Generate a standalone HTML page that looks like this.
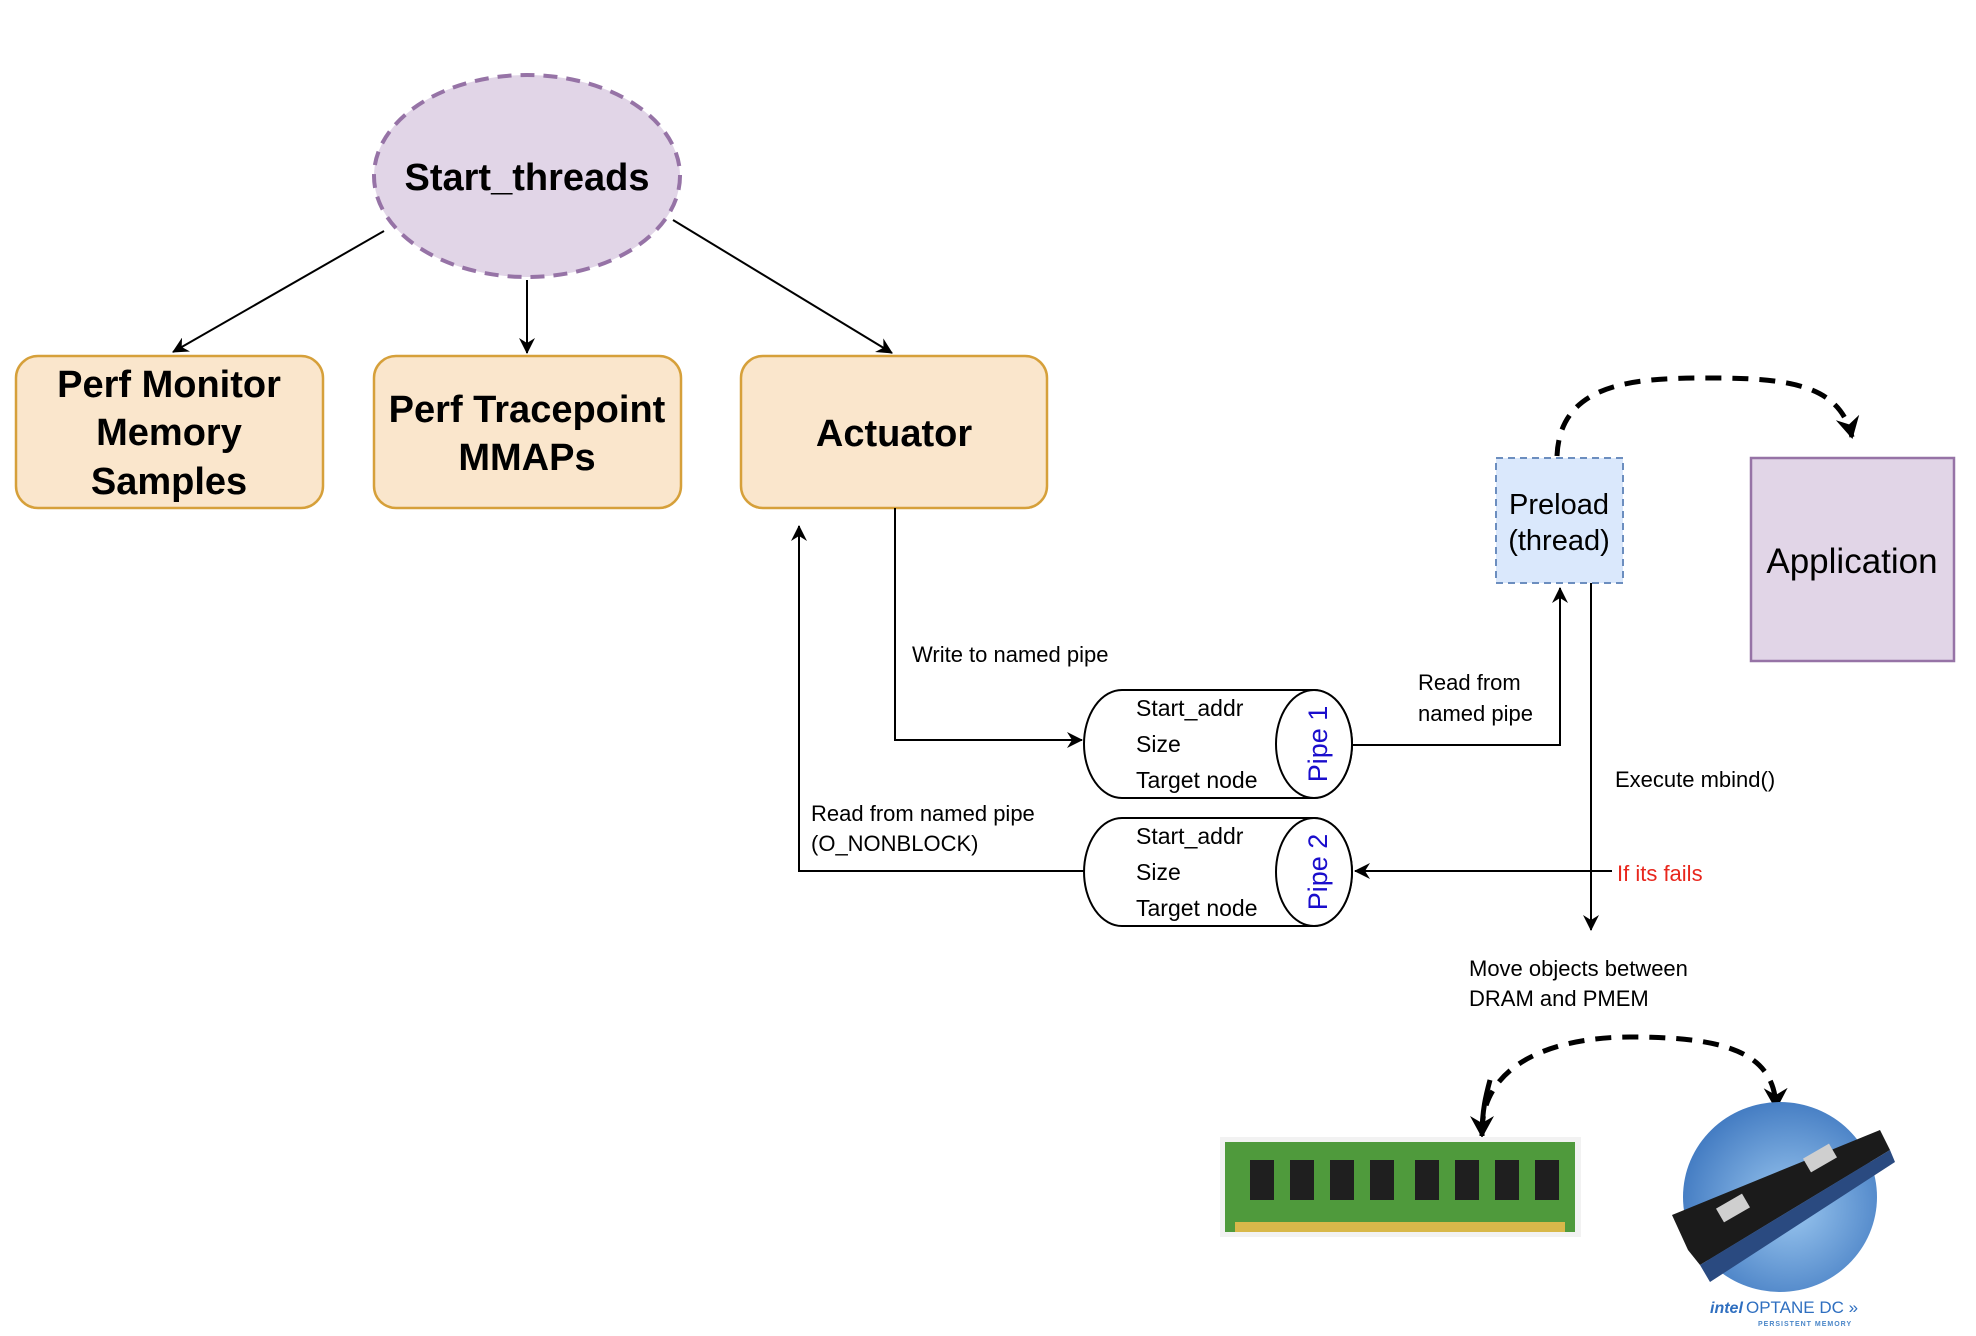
<!DOCTYPE html>
<html><head><meta charset="utf-8"><style>
html,body{margin:0;padding:0;background:#fff;}
svg{display:block;font-family:"Liberation Sans",sans-serif;}
</style></head><body>
<svg width="1976" height="1336" viewBox="0 0 1976 1336" xmlns="http://www.w3.org/2000/svg">
<defs>
<marker id="a" markerWidth="18" markerHeight="16" refX="15" refY="8" orient="auto" markerUnits="userSpaceOnUse"><path d="M0,0 L16,8 L0,16 L5,8 Z" fill="#000"/></marker>
<marker id="b" markerWidth="24" markerHeight="24" refX="20" refY="12" orient="auto" markerUnits="userSpaceOnUse"><path d="M0,0 L22,12 L0,24 L7,12 Z" fill="#000"/></marker>
<radialGradient id="g" cx="0.55" cy="0.55" r="0.6"><stop offset="0" stop-color="#9cc8f0"/><stop offset="1" stop-color="#3f78c0"/></radialGradient>
</defs>

<ellipse cx="527" cy="176" rx="153" ry="101" fill="#e1d5e7" stroke="#9673a6" stroke-width="4" stroke-dasharray="14,9"/>
<text x="527" y="190" font-size="38" font-weight="bold" text-anchor="middle">Start_threads</text>

<line x1="384" y1="231" x2="173" y2="352" stroke="#000" stroke-width="2" marker-end="url(#a)"/>
<line x1="527" y1="280" x2="527" y2="353" stroke="#000" stroke-width="2" marker-end="url(#a)"/>
<line x1="673" y1="220" x2="892" y2="353" stroke="#000" stroke-width="2" marker-end="url(#a)"/>

<g fill="#fae6cc" stroke="#d6a03a" stroke-width="2.5">
<rect x="16" y="356" width="307" height="152" rx="22"/>
<rect x="374" y="356" width="307" height="152" rx="22"/>
<rect x="741" y="356" width="306" height="152" rx="22"/>
</g>
<g font-size="38" font-weight="bold" text-anchor="middle">
<text x="169" y="397">Perf Monitor</text>
<text x="169" y="445">Memory</text>
<text x="169" y="494">Samples</text>
<text x="527" y="422">Perf Tracepoint</text>
<text x="527" y="470">MMAPs</text>
<text x="894" y="446">Actuator</text>
</g>

<rect x="1496" y="458" width="127" height="125" fill="#dae8fc" stroke="#6c8ebf" stroke-width="2" stroke-dasharray="7,5"/>
<text x="1559" y="514" font-size="29" text-anchor="middle">Preload</text>
<text x="1559" y="550" font-size="29" text-anchor="middle">(thread)</text>

<rect x="1751" y="458" width="203" height="203" fill="#e1d5e7" stroke="#9673a6" stroke-width="2.5"/>
<text x="1852" y="573" font-size="35" text-anchor="middle">Application</text>

<path d="M1557,456 C1560,380 1640,378 1710,378 C1790,378 1840,385 1852,437" fill="none" stroke="#000" stroke-width="5" stroke-dasharray="16,11" marker-end="url(#b)"/>

<polyline points="895,508 895,740 1082,740" fill="none" stroke="#000" stroke-width="2" marker-end="url(#a)"/>
<text x="912" y="662" font-size="22">Write to named pipe</text>

<g stroke="#000" stroke-width="2" fill="#fff">
<path d="M1122,690 L1314,690 A38,54 0 0 1 1314,798 L1122,798 A38,54 0 0 1 1122,690 Z"/>
<ellipse cx="1314" cy="744" rx="38" ry="54"/>
<path d="M1122,818 L1314,818 A38,54 0 0 1 1314,926 L1122,926 A38,54 0 0 1 1122,818 Z"/>
<ellipse cx="1314" cy="872" rx="38" ry="54"/>
</g>
<g font-size="23">
<text x="1136" y="716">Start_addr</text>
<text x="1136" y="752">Size</text>
<text x="1136" y="788">Target node</text>
<text x="1136" y="844">Start_addr</text>
<text x="1136" y="880">Size</text>
<text x="1136" y="916">Target node</text>
</g>
<text transform="translate(1327,744) rotate(-90)" font-size="27" fill="#1a0dcc" text-anchor="middle">Pipe 1</text>
<text transform="translate(1327,872) rotate(-90)" font-size="27" fill="#1a0dcc" text-anchor="middle">Pipe 2</text>

<polyline points="1352,745 1560,745 1560,588" fill="none" stroke="#000" stroke-width="2" marker-end="url(#a)"/>
<text x="1418" y="690" font-size="22">Read from</text>
<text x="1418" y="721" font-size="22">named pipe</text>

<line x1="1591" y1="583" x2="1591" y2="930" stroke="#000" stroke-width="2" marker-end="url(#a)"/>
<text x="1615" y="787" font-size="22">Execute mbind()</text>
<line x1="1612" y1="871" x2="1355" y2="871" stroke="#000" stroke-width="2" marker-end="url(#a)"/>
<text x="1617" y="881" font-size="22" fill="#e8261c">If its fails</text>

<polyline points="1085,871 799,871 799,526" fill="none" stroke="#000" stroke-width="2" marker-end="url(#a)"/>
<text x="811" y="821" font-size="22">Read from named pipe</text>
<text x="811" y="851" font-size="22">(O_NONBLOCK)</text>

<text x="1469" y="976" font-size="22">Move objects between</text>
<text x="1469" y="1006" font-size="22">DRAM and PMEM</text>

<path d="M1482,1132 C1482,1060 1560,1037 1630,1037 C1720,1037 1775,1050 1776,1108" fill="none" stroke="#000" stroke-width="5" stroke-dasharray="16,11" marker-end="url(#b)"/>
<path d="M1490,1080 C1486,1095 1482,1110 1482,1136" fill="none" stroke="#000" stroke-width="5" marker-end="url(#b)"/>

<rect x="1220" y="1137" width="361" height="100" fill="#f2f2f2"/>
<rect x="1225" y="1142" width="350" height="90" fill="#4f9a3c"/>
<rect x="1235" y="1222" width="330" height="10" fill="#d8b84a"/>
<g fill="#1f1f1f">
<rect x="1250" y="1160" width="24" height="40"/><rect x="1290" y="1160" width="24" height="40"/>
<rect x="1330" y="1160" width="24" height="40"/><rect x="1370" y="1160" width="24" height="40"/>
<rect x="1415" y="1160" width="24" height="40"/><rect x="1455" y="1160" width="24" height="40"/>
<rect x="1495" y="1160" width="24" height="40"/><rect x="1535" y="1160" width="24" height="40"/>
</g>

<ellipse cx="1780" cy="1197" rx="97" ry="95" fill="url(#g)"/>
<polygon points="1672,1215 1880,1130 1890,1150 1700,1265 1688,1250" fill="#1b1b1b"/>
<polygon points="1700,1265 1890,1150 1895,1162 1710,1282" fill="#2a4a80"/>
<rect x="1718" y="1200" width="30" height="16" fill="#cfcfcf" transform="rotate(-30 1733 1208)"/>
<rect x="1805" y="1150" width="30" height="16" fill="#cfcfcf" transform="rotate(-30 1820 1158)"/>
<text x="1710" y="1313" font-size="16" fill="#2f6fc0" font-style="italic" font-weight="bold">intel</text>
<text x="1746" y="1313" font-size="17" fill="#2f6fc0">OPTANE DC »</text>
<text x="1758" y="1326" font-size="7" fill="#4a86c8" font-weight="bold" letter-spacing="1">PERSISTENT MEMORY</text>
</svg>
</body></html>
